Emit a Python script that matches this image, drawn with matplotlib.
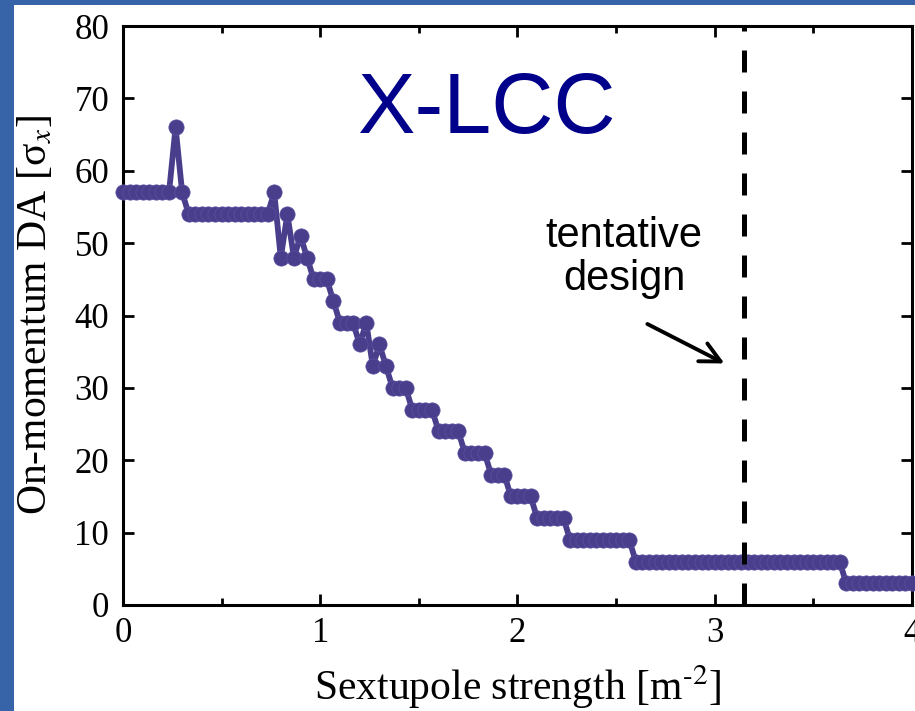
import numpy as np
import matplotlib
matplotlib.use('Agg')
import matplotlib.pyplot as plt
from matplotlib.patches import Rectangle

# sextupole strength grid (121 samples from 0 to 4 m^-2)
strength = np.linspace(0, 4, 121)
# on-momentum dynamic aperture in sigma_x
da = ([57] * 8 + [66, 57] + [54] * 13 + [57, 48, 54, 48, 51, 48]
      + [45] * 3 + [42] + [39] * 3 + [36, 39, 33, 36, 33]
      + [30] * 3 + [27] * 4 + [24] * 4 + [21] * 4 + [18] * 3
      + [15] * 4 + [12] * 5 + [9] * 10 + [6] * 32 + [3] * 11)
design_strength = 3.15
xticks = [0, 1, 2, 3, 4]
yticks = [0, 10, 20, 30, 40, 50, 60, 70, 80]

plt.rcParams['font.family'] = ['Liberation Serif', 'DejaVu Serif']
plt.rcParams['mathtext.fontset'] = 'stix'

fig = plt.figure(figsize=(9.15, 7.11), dpi=100)
fig.patch.set_facecolor('#3763a8')
fig.patches.append(Rectangle((14 / 915, 0), 1, 1 - 5 / 711, transform=fig.transFigure,
                             facecolor='white', edgecolor='none', zorder=-10))

ax = fig.add_axes([0.1344, 0.1491, 0.8623, 0.8143])
ax.set_facecolor('none')

ax.plot(strength, da, '-o', color='#483e8c', lw=4.2, ms=11,
        mec='#5a51a0', mew=0.5, clip_on=False, zorder=3)

ax.axvline(design_strength, color='black', lw=3.6, dashes=(4.4, 3.8), zorder=4)

ax.text(1.84, 68.2, 'X-LCC', color='#00008b', fontsize=62,
        family='Liberation Sans', ha='center', va='center')
ax.text(2.54, 48.0, 'tentative\ndesign', color='black', fontsize=30,
        family='Liberation Sans', ha='center', va='center', linespacing=1.08)
ax.annotate('', xy=(3.062, 33.2), xytext=(2.646, 39.0),
            arrowprops=dict(arrowstyle='->', lw=2.8, color='black',
                            mutation_scale=36))

ax.set_xlim(0, 4)
ax.set_ylim(0, 80)
ax.set_xticks(xticks)
ax.set_xticks(np.arange(0.5, 4, 1), minor=True)
ax.set_yticks(yticks)
ax.tick_params(which='both', direction='in', top=True, right=True,
               labelsize=25, width=2, pad=9)
ax.tick_params(which='major', length=8)
ax.tick_params(which='minor', length=5)
ax.tick_params(axis='y', pad=10)
for s in ax.spines.values():
    s.set_linewidth(2.2)

ax.set_xlabel(r'Sextupole strength [m$^{\text{-}2}$]', fontsize=30, labelpad=9)
ax.set_ylabel('On-momentum DA [σ$_x$]', fontsize=30, labelpad=14)

fig.savefig('out.png', dpi=100, facecolor=fig.get_facecolor())
